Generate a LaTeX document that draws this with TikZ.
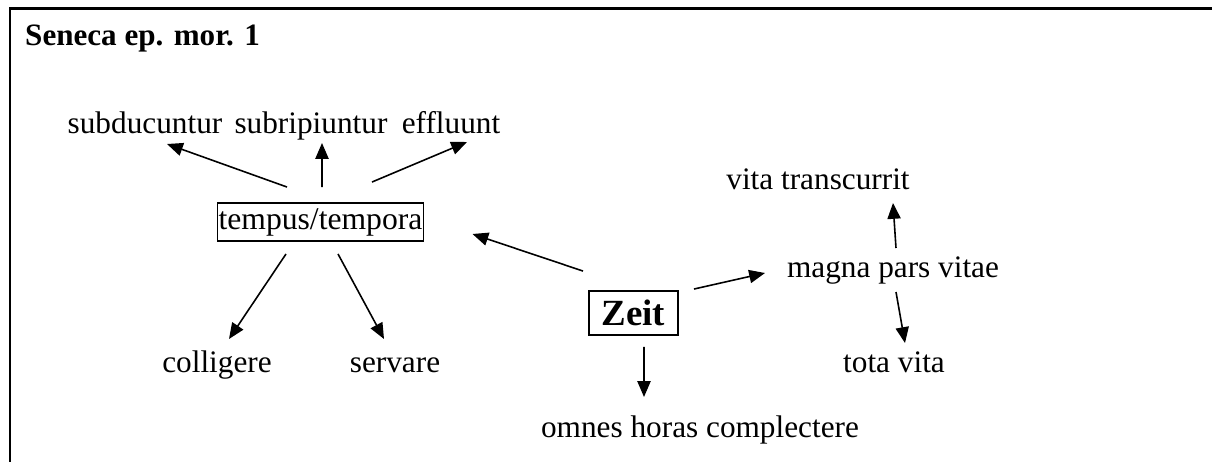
\documentclass[tikz,border=0pt]{standalone}
\usepackage{fontspec}
\setmainfont{Liberation Serif}
\usetikzlibrary{arrows.meta}

\begin{document}
\begin{tikzpicture}[
    pfeil/.style={-{Triangle[length=9pt,width=7.5pt]}, line width=0.9pt},
    kasten/.style={draw, line width=1.1pt, inner sep=0pt},
    wort/.style={anchor=base, font=\fontsize{17.8}{21}\selectfont}
]
    \useasboundingbox (0,0) rectangle (24.24,-9.24);
    \draw[line width=1.4pt] (0.20,-9.24) -- (0.20,-0.17) -- (24.24,-0.17);

    \node[wort, anchor=base west, font=\fontsize{17.7}{21}\selectfont\bfseries] (titel) at (0.38,-0.92) {Seneca ep. mor. 1};

    \node[kasten, font=\fontsize{18}{21}\selectfont, minimum width=4.12cm, minimum height=0.76cm] (tempus) at (6.41,-4.44) {tempus/tempora};
    \node[kasten, font=\fontsize{21}{24}\selectfont\bfseries, minimum width=1.78cm, minimum height=0.88cm] (zeit) at (12.67,-6.26) {Zeit};

    \node[wort] (subduc) at (2.90,-2.66) {subducuntur};
    \node[wort] (subrip) at (6.22,-2.66) {subripiuntur};
    \node[wort] (effl) at (9.02,-2.66) {effluunt};
    \node[wort] (coll) at (4.34,-7.44) {colligere};
    \node[wort] (serv) at (7.90,-7.44) {servare};
    \node[wort] (omnes) at (14.00,-8.74) {omnes horas complectere};
    \node[wort] (magna) at (17.86,-5.54) {magna pars vitae};
    \node[wort] (vitatr) at (16.36,-3.78) {vita transcurrit};
    \node[wort] (tota) at (17.88,-7.44) {tota vita};

    \draw[pfeil] ([shift={(-0.67,0.30)}]tempus.north) -- ([shift={(0.44,-0.22)}]subduc.base);
    \draw[pfeil] ([shift={(0.03,0.30)}]tempus.north) -- ([shift={(0.22,-0.20)}]subrip.base);
    \draw[pfeil] ([shift={(1.03,0.40)}]tempus.north) -- ([shift={(0.32,-0.18)}]effl.base);
    \draw[pfeil] ([shift={(-0.69,-0.24)}]tempus.south) -- ([shift={(0.24,0.66)}]coll.base);
    \draw[pfeil] ([shift={(0.35,-0.24)}]tempus.south) -- ([shift={(-0.22,0.66)}]serv.base);

    \draw[pfeil] ([shift={(-1.01,0.38)}]zeit.north) -- ([shift={(0.96,-0.24)}]tempus.east);
    \draw[pfeil] ([shift={(0.21,-0.22)}]zeit.south) -- ([shift={(-1.12,0.80)}]omnes.base);
    \draw[pfeil] ([shift={(1.21,0.02)}]zeit.north) -- ([shift={(-2.56,0.08)}]magna.base);

    \draw[pfeil] ([shift={(0.06,0.58)}]magna.base) -- ([shift={(1.50,-0.28)}]vitatr.base);
    \draw[pfeil] ([shift={(0.06,-0.30)}]magna.base) -- ([shift={(0.22,0.58)}]tota.base);
\end{tikzpicture}
\end{document}
